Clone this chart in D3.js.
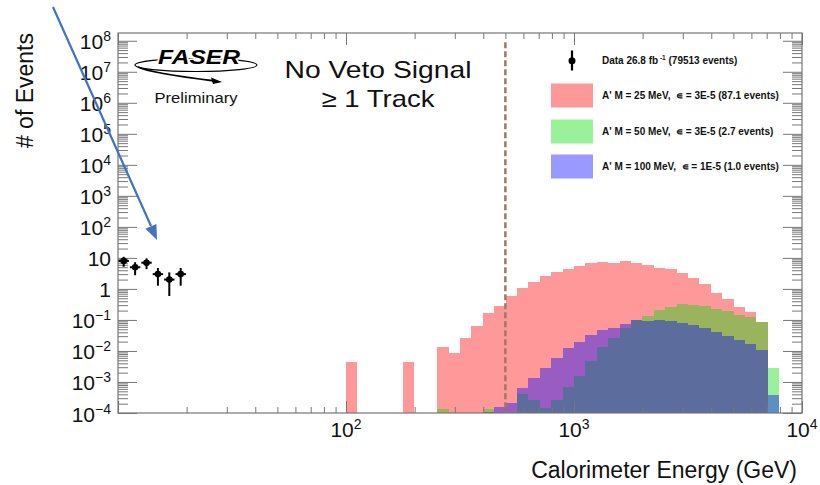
<!DOCTYPE html>
<html><head><meta charset="utf-8">
<script src="https://cdn.jsdelivr.net/npm/d3@7"></script>
<style>
html,body{margin:0;padding:0;background:#fff;}
svg{display:block;}
text{font-family:"Liberation Sans",Arial,Helvetica,sans-serif;}
</style></head><body>
<svg id="c" width="820" height="485"></svg>
<script>
// ---------- data ----------
// signal histogram bin edges (GeV), 20 bins per decade
const binEdges = [100, 112.2, 125.9, 141.3, 158.5, 177.8, 199.5, 223.9, 251.2, 281.8,
  316.2, 354.8, 398.1, 446.7, 501.2, 562.3, 631.0, 707.9, 794.3, 891.3,
  1000, 1122, 1259, 1413, 1585, 1778, 1995, 2239, 2512, 2818,
  3162, 3548, 3981, 4467, 5012, 5623, 6310, 7079, 7943];
// A' M = 25 MeV, eps = 3E-5
const sigM25 = [0.0044, 0, 0, 0, 0, 0.0044, 0, 0, 0.0135, 0.0089,
  0.027, 0.063, 0.168, 0.277, 0.594, 1.08, 1.68, 2.57, 3.53, 4.55,
  5.52, 6.90, 7.43, 7.08, 7.83, 6.90, 6.12, 4.75, 4.55, 3.28,
  2.26, 1.39, 0.743, 0.466, 0.262, 0.181, 0.087, 0];
// A' M = 50 MeV, eps = 3E-5
const sigM50 = [0, 0, 0, 0, 0, 0, 0, 0, 1.39e-4, 0,
  0, 0, 1.39e-4, 0, 0, 4.23e-4, 2.7e-4, 1.45e-4, 2.7e-4, 6.9e-4,
  1.53e-3, 4.66e-3, 0.0135, 0.0262, 0.0552, 0.0997, 0.1346, 0.2056, 0.262, 0.321,
  0.298, 0.277, 0.233, 0.191, 0.149, 0.125, 0.0861, 2.92e-3];
// A' M = 100 MeV, eps = 1E-5
const sigM100 = [0, 0, 0, 0, 0, 0, 0, 0, 0, 0,
  0, 0, 1.08e-4, 1.56e-4, 2.1e-4, 6.4e-4, 1.35e-3, 2.83e-3, 5.94e-3, 0.0125,
  0.0195, 0.0321, 0.0466, 0.0552, 0.0766, 0.0977, 0.0908, 0.0977, 0.0933, 0.0824,
  0.0711, 0.0552, 0.041, 0.0298, 0.0221, 0.0164, 0.0111, 3.72e-4];
// data
const dataEdges = [10, 11.22, 12.59, 14.13, 15.85, 17.78, 19.95];
const dataCounts = [8, 5, 7, 3, 2, 3];
const dataErr = [2.83, 2.24, 2.65, 1.73, 1.41, 1.73];
// axes
const xTickExps = [2, 3, 4];
const yTickExps = [-4, -3, -2, -1, 0, 1, 2, 3, 4, 5, 6, 7, 8];
const cutEnergy = 500;
const legendData = "Data 26.8 fb";
const legendDataRest = " (79513 events)";
const legendLabels = ["A' M = 25 MeV,  \u220A = 3E-5 (87.1 events)",
  "A' M = 50 MeV,  \u220A = 3E-5 (2.7 events)",
  "A' M = 100 MeV,  \u220A = 1E-5 (1.0 events)"];
const seriesColors = ["rgb(255,0,0)", "rgb(0,220,0)", "rgb(0,0,255)"];

// ---------- layout ----------
const svg = d3.select("#c");
const L = 118, R = 802, T = 33, B = 413;
const x = d3.scaleLog().domain([10, 1e4]).range([L, R]);
const y = d3.scaleLog().domain([1e-4, Math.pow(10, 8.25)]).range([B, T]);
const yMin = 1e-4;

// ---------- histograms ----------
const series = [sigM25, sigM50, sigM100];
series.forEach((vals, si) => {
  const bins = vals.map((v, i) => ({x0: binEdges[i], x1: binEdges[i + 1], v}))
    .filter(d => d.v > yMin);
  svg.append("g").selectAll("rect").data(bins).join("rect")
    .attr("x", d => x(d.x0))
    .attr("width", d => x(d.x1) - x(d.x0))
    .attr("y", d => y(d.v))
    .attr("height", d => y(yMin) - y(d.v))
    .attr("fill", seriesColors[si])
    .attr("fill-opacity", 0.4)
    .attr("shape-rendering", "crispEdges");
});

// ---------- cut line ----------
svg.append("line")
  .attr("x1", x(cutEnergy)).attr("x2", x(cutEnergy))
  .attr("y1", y(9e7)).attr("y2", y(yMin))
  .attr("stroke", "#a07a62").attr("stroke-width", 2.5)
  .attr("stroke-dasharray", "6,3");

// ---------- axes ----------
const axCol = "#777";
const yMajor = yTickExps.map(e => Math.pow(10, e));
const yMinor = [];
yTickExps.forEach(e => { for (let m = 2; m <= 9; m++) { const v = m * Math.pow(10, e); if (v <= y.domain()[1]) yMinor.push(v); } });
const xMajor = [10, 100, 1000, 10000];
const xMinor = [];
[1, 2, 3].forEach(e => { for (let m = 2; m <= 9; m++) xMinor.push(m * Math.pow(10, e)); });

function styleAxis(g) {
  g.select(".domain").remove();
  g.selectAll("line").attr("stroke", axCol).attr("stroke-width", 1);
  g.selectAll("text").remove();
}
svg.append("g").attr("transform", `translate(${L},0)`).call(d3.axisLeft(y).tickValues(yMajor).tickSize(-19).tickFormat("")).call(styleAxis);
svg.append("g").attr("transform", `translate(${L},0)`).call(d3.axisLeft(y).tickValues(yMinor).tickSize(-10).tickFormat("")).call(styleAxis);
svg.append("g").attr("transform", `translate(${R},0)`).call(d3.axisRight(y).tickValues(yMajor).tickSize(-19).tickFormat("")).call(styleAxis);
svg.append("g").attr("transform", `translate(${R},0)`).call(d3.axisRight(y).tickValues(yMinor).tickSize(-10).tickFormat("")).call(styleAxis);
svg.append("g").attr("transform", `translate(0,${B})`).call(d3.axisBottom(x).tickValues(xMajor).tickSize(-12).tickFormat("")).call(styleAxis);
svg.append("g").attr("transform", `translate(0,${B})`).call(d3.axisBottom(x).tickValues(xMinor).tickSize(-6).tickFormat("")).call(styleAxis);
svg.append("g").attr("transform", `translate(0,${T})`).call(d3.axisTop(x).tickValues(xMajor).tickSize(-12).tickFormat("")).call(styleAxis);
svg.append("g").attr("transform", `translate(0,${T})`).call(d3.axisTop(x).tickValues(xMinor).tickSize(-6).tickFormat("")).call(styleAxis);
svg.append("rect").attr("x", L).attr("y", T).attr("width", R - L).attr("height", B - T)
  .attr("fill", "none").attr("stroke", axCol).attr("stroke-width", 1.2);

// ---------- data points (on top of axes) ----------
const pts = dataCounts.map((n, i) => ({x0: dataEdges[i], x1: dataEdges[i + 1], n, e: dataErr[i]}));
const gp = svg.append("g");
pts.forEach(d => {
  const xc = Math.sqrt(d.x0 * d.x1);
  gp.append("line").attr("x1", x(xc)).attr("x2", x(xc))
    .attr("y1", y(d.n + d.e)).attr("y2", y(Math.max(d.n - d.e, yMin)))
    .attr("stroke", "#000").attr("stroke-width", 2);
  gp.append("line").attr("x1", x(d.x0) + 0.5).attr("x2", x(d.x1) - 0.5)
    .attr("y1", y(d.n)).attr("y2", y(d.n))
    .attr("stroke", "#000").attr("stroke-width", 2);
  gp.append("circle").attr("cx", x(xc)).attr("cy", y(d.n)).attr("r", 3.3).attr("fill", "#000");
});

// tick labels
function powLabel(sel, e) {
  if (e === 0) { sel.append("tspan").text("1"); return; }
  if (e === 1) { sel.append("tspan").text("10"); return; }
  sel.append("tspan").text("10");
  sel.append("tspan").attr("dy", -8).attr("font-size", 14).text(e < 0 ? "\u2212" + (-e) : String(e));
}
yTickExps.forEach(e => {
  const t = svg.append("text").attr("x", 111).attr("y", y(Math.pow(10, e)) + 8.5)
    .attr("text-anchor", "end").attr("font-size", 21).attr("fill", "#111");
  powLabel(t, e);
});
xTickExps.forEach(e => {
  const t = svg.append("text").attr("x", x(Math.pow(10, e))).attr("y", 437)
    .attr("text-anchor", "middle").attr("font-size", 21).attr("fill", "#111");
  powLabel(t, e);
});

// axis titles
svg.append("text").attr("x", 797).attr("y", 478).attr("text-anchor", "end")
  .attr("font-size", 23).attr("fill", "#111").text("Calorimeter Energy (GeV)");
svg.append("text").attr("transform", "translate(33,33) rotate(-90)").attr("text-anchor", "end")
  .attr("font-size", 23).attr("fill", "#111").text("# of Events");

// ---------- title text ----------
svg.append("text").attr("x", 378).attr("y", 78).attr("text-anchor", "middle")
  .attr("font-size", 24).attr("textLength", 187).attr("lengthAdjust", "spacingAndGlyphs")
  .attr("fill", "#111").text("No Veto Signal");
svg.append("text").attr("x", 378).attr("y", 107).attr("text-anchor", "middle")
  .attr("font-size", 24).attr("textLength", 113).attr("lengthAdjust", "spacingAndGlyphs")
  .attr("fill", "#111").text("\u2265 1 Track");

// ---------- FASER logo ----------
const lg = svg.append("g");
lg.append("ellipse").attr("cx", 196).attr("cy", 65).attr("rx", 61).attr("ry", 6.5)
  .attr("fill", "none").attr("stroke", "#000").attr("stroke-width", 1.2);
lg.append("path").attr("d", "M138,67 Q150,73 215,81").attr("fill", "none").attr("stroke", "#000").attr("stroke-width", 1.8);
lg.append("path").attr("d", "M222,82 L211,77.5 L213,84 Z").attr("fill", "#000");
lg.append("text").attr("x", 199).attr("y", 64).attr("text-anchor", "middle")
  .attr("font-size", 21).attr("font-weight", "900").attr("font-style", "italic")
  .attr("textLength", 82).attr("lengthAdjust", "spacingAndGlyphs")
  .attr("stroke", "#fff").attr("stroke-width", 3).attr("paint-order", "stroke")
  .attr("fill", "#000").text("FASER");
lg.append("text").attr("x", 196).attr("y", 103).attr("text-anchor", "middle")
  .attr("font-size", 14.5).attr("textLength", 83).attr("lengthAdjust", "spacingAndGlyphs")
  .attr("fill", "#111").text("Preliminary");

// ---------- legend ----------
const lgx = 551, lgw = 42, lgh = 24;
svg.append("line").attr("x1", 572).attr("x2", 572).attr("y1", 50.5).attr("y2", 70.5)
  .attr("stroke", "#000").attr("stroke-width", 2.2);
svg.append("circle").attr("cx", 572).attr("cy", 60.7).attr("r", 3.5).attr("fill", "#000");
const dt = svg.append("text").attr("x", 602).attr("y", 64.2).attr("font-size", 10)
  .attr("font-weight", "bold").attr("fill", "#111");
dt.append("tspan").text(legendData);
dt.append("tspan").attr("dy", -4).attr("font-size", 6.5).text(" -1");
dt.append("tspan").attr("dy", 4).text(legendDataRest);
const legY = [83.5, 119.5, 154.5];
legendLabels.forEach((lab, i) => {
  svg.append("rect").attr("x", lgx).attr("y", legY[i]).attr("width", lgw).attr("height", lgh)
    .attr("fill", seriesColors[i]).attr("fill-opacity", 0.4);
  svg.append("text").attr("x", 602).attr("y", legY[i] + 15.5).attr("font-size", 10)
    .attr("font-weight", "bold").attr("fill", "#111").style("white-space", "pre").text(lab);
});

// ---------- blue annotation arrow ----------
svg.append("line").attr("x1", 53).attr("y1", 7).attr("x2", 151).attr("y2", 226)
  .attr("stroke", "#4472c4").attr("stroke-width", 2.2);
svg.append("path").attr("d", "M157,240 L145.4,228.7 L156.4,223.9 Z").attr("fill", "#4472c4");
</script>
</body></html>
